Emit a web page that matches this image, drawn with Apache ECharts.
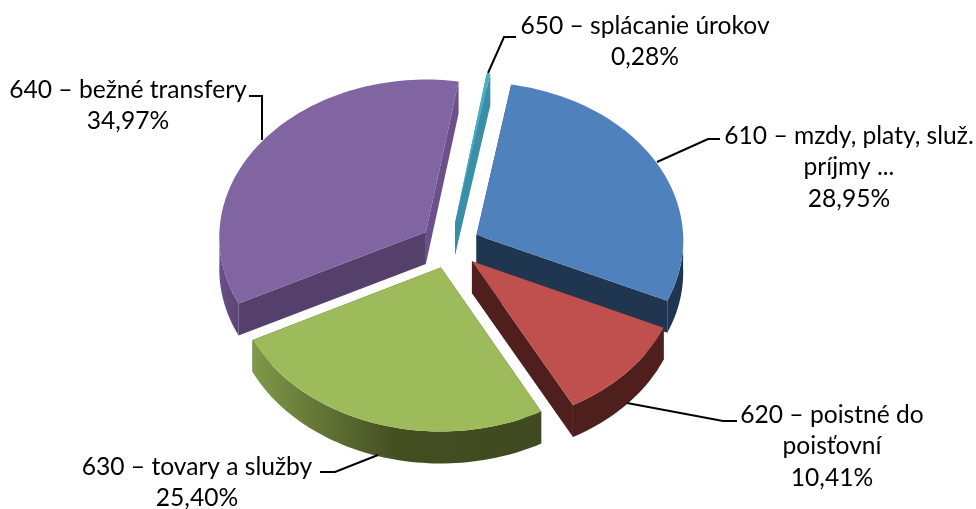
<!DOCTYPE html>
<html>
<head>
<meta charset="utf-8">
<title>Výdavky</title>
<style>
  html, body { margin: 0; padding: 0; background: #fff; }
  #chart { width: 976px; height: 509px; }
</style>
<script src="https://cdn.jsdelivr.net/npm/echarts@6/dist/echarts.min.js"></script>
</head>
<body>
<div id="chart"></div>
<script>
const sliceNames = ['610 – mzdy, platy, služ.\npríjmy ...', '620 – poistné do\npoisťovní', '630 – tovary a služby', '640 – bežné transfery', '650 – splácanie úrokov'];
const sliceValues = [28.95, 10.41, 25.40, 34.97, 0.28];

// look of the tilted pie, not data
const topColors = ['#4f81bd', '#c0504d', '#9dbb5b', '#8165a3', '#4bacc6'];
const startEdgeColors = ['#1f3550', '#4f1f1e', '#414b20', '#55406b', '#3a8fa6'];
const endEdgeColors = ['#1f3550', '#4f1f1e', '#414b20', '#6b5089', '#3a8fa6'];
const rimStops = [
  [[0, '#1f3550'], [1, '#1f3550']],
  [[0, '#4f1f1e'], [1, '#4f1f1e']],
  [[0, '#7f9849'], [0.5, '#434e21'], [1, '#3f4a20']],
  [[0, '#6b5089'], [1, '#5a4473']],
  [[0, '#3a8fa6'], [1, '#3a8fa6']],
];
const labelBoxes = [[849, 120], [832, 399], [197, 451], [128, 74], [645, 10]];
const leaderLines = [
  [[657, 162], [708, 139], [720, 139]],
  [[627, 403], [723, 421], [737, 421]],
  [[378, 455], [335, 472], [320, 472]],
  [[262, 140], [262, 96], [249, 96]],
  [[488, 73], [504, 37], [516, 37]],
];

const centerX = 450;
const centerY = 245.5;
const radiusX = 207;
const radiusY = 158;
const depth = 32;
const explode = 30;
const perspective = 0.03;
const startAngle = 10.2;

const total = sliceValues.reduce((sum, v) => sum + v, 0);

function project(u, v, z) {
  const s = 1 + perspective * v;
  return [centerX + u * radiusX * s, centerY + v * radiusY * s + z];
}

function sliceAngles() {
  let angle = startAngle;
  return sliceValues.map((value, index) => {
    const start = angle;
    angle += value / total * 360;
    return { index, start, end: angle, mid: (start + angle) / 2 };
  });
}

function rimPoint(slice, deg, z) {
  const rad = deg * Math.PI / 180;
  const midRad = slice.mid * Math.PI / 180;
  const off = explode / radiusX;
  return project(Math.sin(rad) + off * Math.sin(midRad), -Math.cos(rad) - off * Math.cos(midRad), z);
}

function apexPoint(slice, z) {
  const midRad = slice.mid * Math.PI / 180;
  const off = explode / radiusX;
  return project(off * Math.sin(midRad), -off * Math.cos(midRad), z);
}

function arcPoints(slice, from, to, z) {
  const steps = Math.max(2, Math.ceil(Math.abs(to - from) / 1.5));
  const points = [];
  for (let i = 0; i <= steps; i++) {
    points.push(rimPoint(slice, from + (to - from) * i / steps, z));
  }
  return points;
}

// outer wall is only seen on the front half of the ellipse (90..270 from top)
function frontRange(slice) {
  const from = Math.max(slice.start, 90);
  const to = Math.min(slice.end, 270);
  return from < to ? [from, to] : null;
}

function renderSlice(params, api) {
  const slice = sliceAngles()[api.value(0)];
  const i = slice.index;
  const children = [];

  [[slice.start, startEdgeColors[i]], [slice.end, endEdgeColors[i]]].forEach(([deg, color]) => {
    children.push({
      type: 'polygon',
      shape: { points: [apexPoint(slice, 0), rimPoint(slice, deg, 0), rimPoint(slice, deg, depth), apexPoint(slice, depth)] },
      style: { fill: color },
    });
  });

  const range = frontRange(slice);
  if (range) {
    const upper = arcPoints(slice, range[0], range[1], 0);
    const lower = arcPoints(slice, range[1], range[0], depth);
    children.push({
      type: 'polygon',
      shape: { points: upper.concat(lower) },
      style: {
        fill: new echarts.graphic.LinearGradient(0, 0, 1, 0, rimStops[i].map(([offset, color]) => ({ offset, color }))),
      },
    });
  }

  children.push({
    type: 'polygon',
    shape: { points: [apexPoint(slice, 0)].concat(arcPoints(slice, slice.start, slice.end, 0)) },
    style: { fill: topColors[i] },
  });

  return { type: 'group', children };
}

// back slices first so the front ones sit on top of them
const drawOrder = sliceAngles()
  .sort((a, b) => Math.cos(b.mid * Math.PI / 180) - Math.cos(a.mid * Math.PI / 180))
  .map((slice) => slice.index);

function formatShare(value) {
  return value.toFixed(2).replace('.', ',') + '%';
}

const labelElements = sliceNames.map((name, i) => ({
  type: 'text',
  x: labelBoxes[i][0],
  y: labelBoxes[i][1],
  style: {
    text: name + '\n' + formatShare(sliceValues[i]),
    fill: '#000',
    font: '24.6px Lato',
    lineHeight: 31.5,
    align: 'center',
    verticalAlign: 'top',
  },
}));

const leaderElements = leaderLines.map((points) => ({
  type: 'polyline',
  shape: { points },
  style: { stroke: '#000', lineWidth: 2, fill: null },
  z: 10,
}));

const chart = echarts.init(document.getElementById('chart'), null, { renderer: 'canvas' });

chart.setOption({
  animation: false,
  backgroundColor: '#fff',
  graphic: labelElements.concat(leaderElements),
  series: [
    {
      type: 'custom',
      coordinateSystem: 'none',
      renderItem: renderSlice,
      data: drawOrder.map((index) => [index, sliceValues[index]]),
      encode: { value: 1 },
      silent: true,
    },
  ],
});
</script>
</body>
</html>
